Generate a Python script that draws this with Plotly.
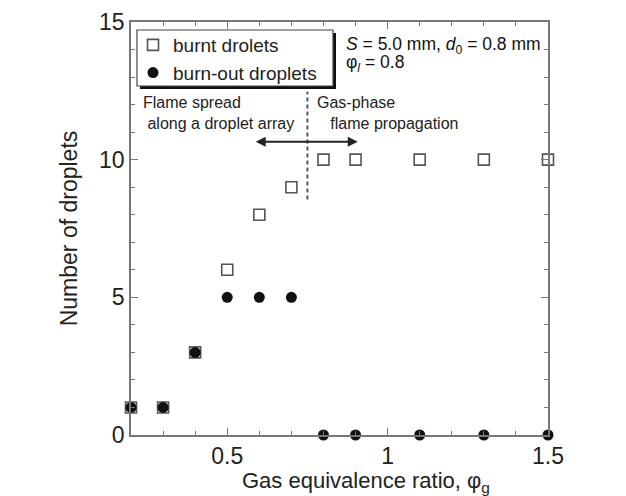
import plotly.graph_objects as go

phi_g = [0.2, 0.3, 0.4, 0.5, 0.6, 0.7, 0.8, 0.9, 1.1, 1.3, 1.5]
burnt = [1, 1, 3, 6, 8, 9, 10, 10, 10, 10, 10]
burnout = [1, 1, 3, 5, 5, 5, 0, 0, 0, 0, 0]

FONT = "Liberation Sans, Arial, sans-serif"
INK = "#222222"
AX = "#777777"

L, R, T, B = 131, 548, 22, 435
W, H = R - L, B - T


def px(x):
    return (x - L) / W


def py(y):
    return (B - y) / H


fig = go.Figure()
fig.add_trace(go.Scatter(
    x=phi_g, y=burnt, mode="markers", name="burnt drolets",
    marker=dict(symbol="square-open", size=11, color="#555555", line=dict(width=1.6)),
    cliponaxis=False))
fig.add_trace(go.Scatter(
    x=phi_g, y=burnout, mode="markers", name="burn-out droplets",
    marker=dict(symbol="circle", size=11, color="#111111"),
    cliponaxis=False))

# dashed divider
fig.add_shape(type="line", x0=0.75, x1=0.75, y0=8.55, y1=12.47, xref="x", yref="y",
              line=dict(color="#555555", width=2, dash="4px,3px"))
# double-headed arrow
fig.add_annotation(x=0.907, y=10.65, ax=0.584, ay=10.65, xref="x", yref="y",
                   axref="x", ayref="y", text="", showarrow=True,
                   arrowhead=2, startarrowhead=2, arrowside="end+start",
                   arrowsize=1, arrowwidth=2, arrowcolor="#222222")

fig.add_annotation(x=0.232, y=11.7, xref="x", yref="y", xanchor="left", yanchor="middle",
                   text="Flame spread<br> along a droplet array", showarrow=False, align="left",
                   font=dict(family=FONT, size=16, color=INK))
fig.add_annotation(x=0.775, y=11.7, xref="x", yref="y", xanchor="left", yanchor="middle",
                   text="Gas-phase<br>   flame propagation", showarrow=False, align="left",
                   font=dict(family=FONT, size=16, color=INK))
fig.add_annotation(x=px(344), y=py(45), xref="paper", yref="paper", xanchor="left", yanchor="middle",
                   text="<i>S</i> = 5.0 mm, <i>d</i><sub>0</sub> = 0.8 mm", showarrow=False,
                   font=dict(family=FONT, size=17.5, color="#111111"))
fig.add_annotation(x=px(344), y=py(64), xref="paper", yref="paper", xanchor="left", yanchor="middle",
                   text="φ<sub><i>l</i></sub> = 0.8", showarrow=False,
                   font=dict(family=FONT, size=17.5, color="#111111"))
# x-axis title
fig.add_annotation(x=px(366), y=py(482), xref="paper", yref="paper", xanchor="center", yanchor="middle",
                   text="Gas equivalence ratio, φ<sub>g</sub>", showarrow=False,
                   font=dict(family=FONT, size=22, color=INK))

# legend box with drop shadow
bx0, bx1, by0, by1 = 137, 333, 30, 86
fig.add_shape(type="rect", xref="paper", yref="paper",
              x0=px(bx0 + 3), x1=px(bx1 + 3), y0=py(by1 + 3), y1=py(by0 + 3),
              fillcolor="#111111", line=dict(width=0), layer="above")
fig.add_shape(type="rect", xref="paper", yref="paper",
              x0=px(bx0), x1=px(bx1), y0=py(by1), y1=py(by0),
              fillcolor="white", line=dict(width=1.2, color="#444444"), layer="above")

axis_common = dict(showline=True, linecolor=AX, linewidth=1.5, mirror="ticks",
                   ticks="inside", tickcolor=AX, ticklen=7, tickwidth=1.2,
                   showgrid=False, zeroline=False, automargin=False,
                   tickfont=dict(family=FONT, size=23, color=INK))

fig.update_layout(
    width=626, height=496,
    margin=dict(l=L, r=626 - R, t=T, b=496 - B),
    paper_bgcolor="white", plot_bgcolor="white",
    showlegend=True,
    legend=dict(x=px(133), y=py(26), xanchor="left", yanchor="top",
                bgcolor="rgba(0,0,0,0)", borderwidth=0,
                font=dict(family=FONT, size=19, color=INK),
                tracegroupgap=0, itemsizing="trace"),
    xaxis=dict(range=[0.2, 1.5], tickvals=[0.5, 1, 1.5], ticktext=["0.5", "1", "1.5"],
               minor=dict(dtick=0.1, tick0=0, ticks="inside", ticklen=4, tickcolor=AX),
               **axis_common),
    yaxis=dict(range=[0, 15], tickvals=[0, 5, 10, 15],
               minor=dict(dtick=1, tick0=0, ticks="inside", ticklen=4, tickcolor=AX),
               title=dict(text="Number of droplets",
                          font=dict(family=FONT, size=23, color=INK)),
               **axis_common),
)

fig.write_html("out.html")
